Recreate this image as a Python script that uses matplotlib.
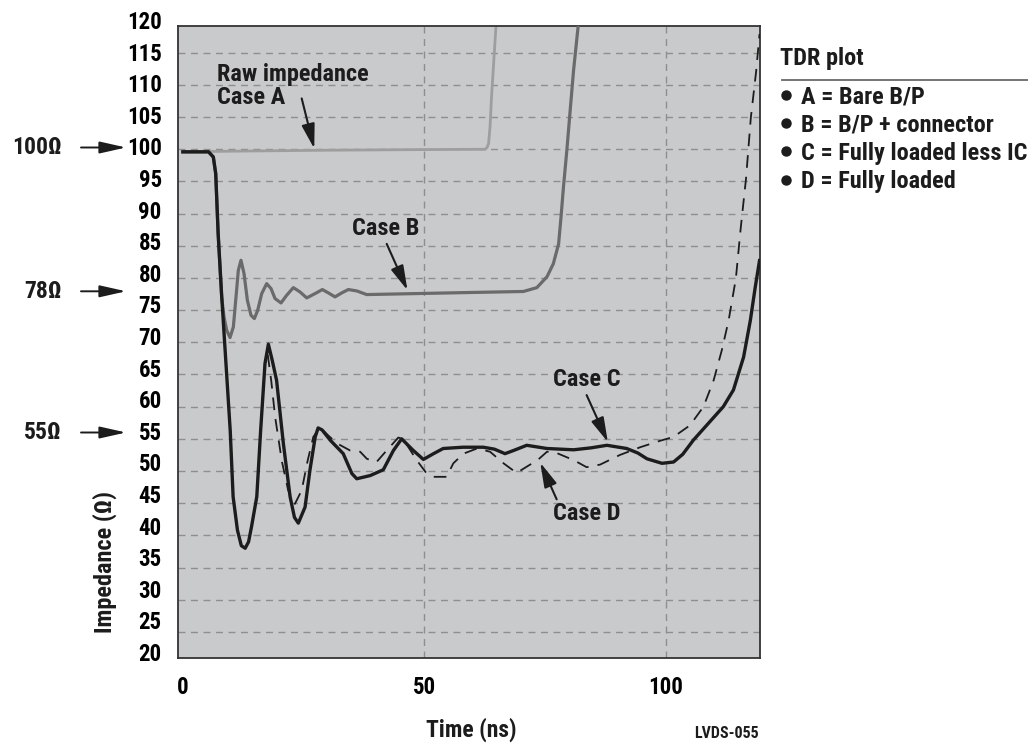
import matplotlib.pyplot as plt

plt.rcParams['font.family'] = ['Roboto Condensed', 'Noto Sans', 'DejaVu Sans']
plt.rcParams['font.stretch'] = 'condensed'
plt.rcParams['font.weight'] = 'bold'

# Case A - bare backplane (raw impedance)
time_a = [0, 10, 30, 50, 62.6, 63.0, 63.3, 63.6, 63.9, 64.3, 64.8, 65.0]
imp_a = [99.6, 99.7, 99.85, 99.95, 100.0, 100.3, 100.9, 103.5, 108.0, 112.8, 118.8, 121.0]

# Case B - backplane + connector
time_b = [0, 5.3, 6.3, 6.8, 7.3, 8.03, 8.51, 9.07, 9.76, 10.45, 11.0, 11.48, 12.03,
          12.66, 13.35, 14.1, 14.8, 15.49, 16.32, 17.35, 18.25, 19.08, 20.32, 21.49,
          22.87, 24.25, 25.64, 27.36, 28.88, 30.12, 31.5, 32.89, 34.26, 35.99, 38.06,
          50, 60, 70.5, 73.3, 75.4, 76.7, 77.8, 78.3, 78.8, 79.5, 80.2, 80.9, 81.8, 82.0]
imp_b = [99.6, 99.6, 98.8, 96.2, 86.9, 77.06, 73.95, 71.88, 70.74, 72.39, 77.06, 81.2, 82.75,
         80.68, 76.54, 74.21, 73.69, 74.98, 77.57, 79.12, 78.35, 76.8, 76.12, 77.31,
         78.5, 77.83, 76.9, 77.57, 78.2, 77.68, 77.06, 77.68, 78.2, 77.99, 77.42,
         77.6, 77.75, 77.9, 78.5, 80.2, 82.2, 85.3, 89.5, 94.1, 99.8, 106.1, 112.3, 118.8, 121.0]

# Case C - fully loaded less IC
time_c = [0, 5.3, 6.3, 6.8, 7.3, 8.0, 8.7, 9.8, 10.4, 11.3, 12.1, 12.9, 13.6, 14.2,
          15.3, 16.1, 17.0, 17.7, 18.5, 19.4, 20.8, 22.2, 23.1, 23.9, 25.3, 26.3, 27.4,
          28.0, 28.8, 30.5, 33.2, 35.0, 36.0, 38.8, 41.5, 43.6, 45.3, 47.7, 49.8, 51.9,
          53.9, 58.0, 62.2, 64.5, 66.7, 68.5, 71.2, 75.4, 80.9, 84.5, 87.8, 91.9, 94.2,
          96.1, 99.2, 101.6, 103.5, 105.7, 108.8, 111.9, 114.0, 116.1, 117.5, 118.5, 119.4]
imp_c = [99.6, 99.6, 98.8, 96.2, 86.9, 77.6, 69.3, 56.3, 46.0, 40.8, 38.4, 38.0, 39.0, 41.3,
         46.0, 56.3, 66.7, 69.7, 67.2, 64.1, 54.3, 46.0, 42.8, 41.9, 44.4, 50.1, 55.3,
         56.7, 56.4, 54.8, 52.7, 49.6, 48.8, 49.3, 50.2, 53.2, 55.0, 53.2, 51.8, 52.7,
         53.5, 53.7, 53.7, 53.4, 52.7, 53.2, 54.0, 53.5, 53.3, 53.6, 54.0, 53.5, 52.8,
         51.9, 51.2, 51.4, 52.6, 54.8, 57.4, 60.0, 62.6, 67.7, 73.4, 78.5, 82.7]

# Case D - fully loaded
time_d = [0, 5.3, 6.3, 6.8, 7.3, 8.0, 8.7, 9.8, 10.4, 11.3, 12.1, 12.9, 13.6, 14.2,
          15.3, 16.1, 17.0, 17.5, 18.3, 19.1, 20.5, 21.8, 23.2, 24.6, 25.8, 27.0, 28.4,
          30.0, 31.9, 34.6, 36.7, 38.1, 40.1, 42.2, 44.6, 45.6, 48.4, 50.5, 51.9, 54.6,
          56.0, 58.1, 60.9, 63.6, 66.4, 69.1, 71.9, 73.3, 75.4, 77.4, 80.9, 83.6, 86.4,
          90.5, 94.7, 98.8, 101.6, 105.0, 107.8, 109.9, 111.6, 113.0, 114.5, 115.5, 116.6,
          117.6, 118.7, 119.4]
imp_d = [99.6, 99.6, 98.8, 96.2, 86.9, 77.6, 69.3, 56.3, 46.0, 40.8, 38.4, 38.0, 39.0, 41.3,
         46.0, 56.3, 66.7, 68.5, 64.0, 58.4, 51.5, 47.0, 44.9, 47.0, 51.5, 55.3, 56.8,
         55.6, 54.3, 53.2, 53.0, 51.9, 51.4, 53.2, 55.2, 55.0, 51.7, 49.6, 49.1, 49.1,
         51.2, 52.7, 53.5, 53.0, 51.2, 49.7, 51.0, 51.6, 53.0, 52.8, 51.7, 50.6, 51.0,
         52.5, 53.7, 54.7, 55.3, 57.1, 60.0, 64.1, 68.8, 73.4, 79.9, 87.7, 95.4,
         104.9, 112.1, 117.9]

y_tick_values = list(range(20, 121, 5))
x_tick_values = [0, 50, 100]
level_labels = ['100\u03a9', '78\u03a9', '55\u03a9']
legend_items = ['A = Bare B/P', 'B = B/P + connector',
                'C = Fully loaded less IC', 'D = Fully loaded']

W, H = 1028, 743
INK = '#1c1c1c'
FS = 17.5


def fig_xy(x, y):
    # pixel position (from top-left) -> figure fraction
    return x / W, 1 - y / H


fig = plt.figure(figsize=(W / 100, H / 100), dpi=100)
ax = fig.add_axes([178.3 / W, 1 - 658.3 / H, (760 - 178.3) / W, (658.3 - 25.7) / H])
ax.set_facecolor('#c9cacc')
ax.set_xlim(-0.95, 119.5)
ax.set_ylim(20.9, 119.2)

# dashed grid
grid_style = dict(color='#8e8e8e', lw=1.0, ls=(0, (5, 4)), zorder=1)
for v in y_tick_values[1:-1]:
    ax.axhline(v, **grid_style)
for v in x_tick_values[1:]:
    ax.axvline(v, **grid_style)

ax.plot(time_a, imp_a, color='#9e9e9e', lw=2.0, zorder=2, solid_joinstyle='round')
ax.plot(time_b, imp_b, color='#6a6a6a', lw=2.3, zorder=3, solid_joinstyle='round')
ax.plot(time_d, imp_d, color=INK, lw=1.3, ls=(0, (7, 5)), zorder=4)
ax.plot(time_c, imp_c, color=INK, lw=2.4, zorder=5, solid_joinstyle='round')

for s in ax.spines.values():
    s.set_color('#333333')
    s.set_linewidth(1.3)

ax.set_xticks(x_tick_values)
ax.set_xticklabels([str(v) for v in x_tick_values], fontsize=16.5)
ax.tick_params(axis='x', length=0, pad=13)
ax.set_yticks([])

# y tick labels on a separate invisible axis (labels are spaced a bit tighter than the grid)
lab = fig.add_axes([178.3 / W, 1 - 652 / H, 0.001, (652 - 20) / H])
lab.set_ylim(20, 120)
lab.set_yticks(y_tick_values)
lab.set_yticklabels([str(v) for v in y_tick_values], fontsize=16.5)
lab.tick_params(axis='y', length=0, pad=12)
lab.set_xticks([])
for s in lab.spines.values():
    s.set_visible(False)
lab.patch.set_visible(False)

# in-plot annotations
arrow = dict(arrowstyle='-|>,head_length=0.75,head_width=0.2', color=INK,
             lw=1.5, mutation_scale=20, shrinkA=0, shrinkB=0)
ax.text(7.0, 109.8, 'Raw impedance\nCase A', fontsize=FS, ha='left', va='center',
        linespacing=1.0, color=INK)
ax.annotate('', xy=(27.2, 100.1), xytext=(24.6, 107.9), arrowprops=arrow)
ax.text(42.0, 87.7, 'Case B', fontsize=FS, ha='center', va='center', color=INK)
ax.annotate('', xy=(46.5, 78.1), xytext=(42.2, 85.3), arrowprops=arrow)
ax.text(83.6, 64.3, 'Case C', fontsize=FS, ha='center', va='center', color=INK)
ax.annotate('', xy=(88.0, 54.5), xytext=(83.6, 61.8), arrowprops=arrow)
ax.text(83.6, 43.4, 'Case D', fontsize=FS, ha='center', va='center', color=INK)
ax.annotate('', xy=(74.0, 51.3), xytext=(77.4, 45.6), arrowprops=arrow)

# level markers on the left
level_arrow = dict(arrowstyle='-|>,head_length=0.8,head_width=0.18', color=INK,
                   lw=1.4, mutation_scale=20, shrinkA=0, shrinkB=0)
level_y = [147.5, 291.3, 432.5]
for text, py in zip(level_labels, level_y):
    fig.text(*fig_xy(62, py), text, fontsize=17, ha='right', va='center', color=INK)
    ax.annotate('', xy=fig_xy(126, py), xytext=fig_xy(81, py),
                xycoords='figure fraction', textcoords='figure fraction',
                arrowprops=level_arrow, annotation_clip=False)

fig.text(*fig_xy(105, 561.7), 'Impedance (\u03a9)', rotation=90, fontsize=FS,
         ha='center', va='center', color=INK)
fig.text(*fig_xy(471, 730), 'Time (ns)', fontsize=17, ha='center', va='center', color=INK)
fig.text(*fig_xy(759, 734), 'LVDS-055', fontsize=11.5, ha='right', va='center', color=INK)

# TDR plot legend block
fig.text(*fig_xy(779.5, 59), 'TDR plot', fontsize=FS, ha='left', va='center', color=INK)
fig.add_artist(plt.Line2D([782 / W, 1.0], [1 - 80 / H, 1 - 80 / H],
                          color='#6a6a6a', lw=1.3))
for i, item in enumerate(legend_items):
    py = 96.7 + i * 28.3
    bx, by = fig_xy(786, py - 2)
    fig.add_artist(plt.Line2D([bx], [by], marker='o', ms=6.5, color=INK, lw=0))
    fig.text(*fig_xy(800.7, py), item, fontsize=FS, ha='left', va='center', color=INK)

fig.savefig('out.png', dpi=100)
